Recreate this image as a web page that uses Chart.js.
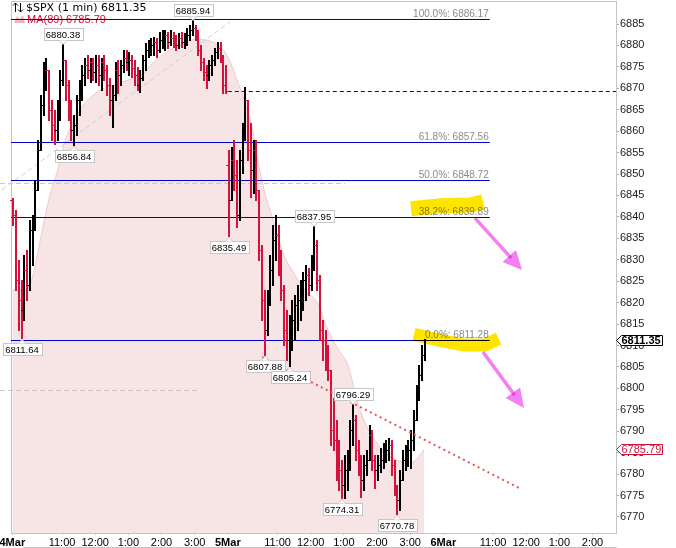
<!DOCTYPE html>
<html><head><meta charset="utf-8">
<script src="https://cdn.jsdelivr.net/npm/chart.js@4.4.1/dist/chart.umd.min.js"></script>
<style>html,body{margin:0;padding:0;background:#fff;overflow:hidden}#wrap{position:relative;width:676px;height:548px}</style>
</head><body><div id="wrap"><canvas id="c" width="676" height="548"></canvas></div>
<script>
// ---------- data (minutes since 4 Mar 9:30 open; 390 minutes per session) ----------
const barMinutes = 5;
const dayStarts = [0, 390];
const dayOpens = [6843.94, 6852.11];

const day1High = [6844.41,6841.61,6829.94,6825.28,6831.11,6832.27,6839.27,6840.44,6848.61,6857.94,
6868.44,6876.14,6877.07,6874.27,6867.27,6864.94,6867.27,6874.27,6880.38,6876.60,
6871.94,6867.27,6863.77,6868.44,6871.94,6875.44,6877.07,6877.77,6877.07,6877.07,
6877.77,6877.77,6877.07,6877.77,6875.44,6872.40,6870.77,6876.14,6876.60,6876.60,
6878.93,6878.93,6878.47,6877.77,6876.60,6874.97,6874.27,6877.77,6880.57,6881.27,
6881.73,6881.97,6881.73,6883.13,6883.60,6883.60,6883.13,6883.60,6883.13,6882.43,
6882.90,6883.13,6882.90,6884.07,6884.77,6885.94,6884.77,6883.60,6880.10,6877.07,
6875.44,6876.60,6877.77,6879.40,6880.80,6880.80,6877.77,6875.44];
const day1Low = [6838.11,6822.94,6813.61,6811.64,6815.94,6820.61,6822.94,6828.78,6836.94,6846.27,
6855.60,6863.77,6869.60,6862.60,6857.94,6857.10,6857.94,6862.60,6870.77,6867.27,
6862.60,6857.94,6856.84,6859.10,6863.77,6867.27,6870.77,6872.40,6871.47,6871.94,
6871.47,6870.77,6869.60,6871.94,6868.44,6863.77,6860.97,6867.27,6868.90,6870.77,
6873.80,6874.27,6873.10,6872.64,6870.77,6869.60,6869.14,6871.94,6874.27,6877.30,
6877.77,6877.77,6877.30,6878.47,6879.40,6878.93,6879.40,6880.10,6879.63,6878.93,
6879.40,6879.63,6879.40,6880.10,6881.27,6882.43,6881.27,6877.77,6874.27,6871.94,
6870.07,6871.94,6873.10,6875.44,6877.07,6876.14,6868.90,6868.90];
const day1Close = [6840.44,6825.28,6820.61,6818.28,6827.61,6824.11,6836.94,6838.11,6846.27,6855.60,
6866.10,6873.10,6874.27,6864.94,6861.44,6860.27,6864.94,6871.94,6876.60,6870.77,
6864.94,6860.27,6861.44,6867.27,6869.60,6873.10,6875.44,6874.27,6876.14,6873.80,
6875.44,6873.10,6876.14,6874.27,6870.77,6867.27,6868.44,6874.27,6873.10,6875.44,
6877.07,6876.14,6876.60,6874.74,6873.10,6870.77,6872.40,6876.60,6878.93,6879.40,
6880.10,6880.80,6878.93,6881.27,6881.73,6882.43,6880.80,6881.73,6881.27,6880.10,
6881.73,6880.80,6881.73,6882.43,6883.60,6884.07,6883.13,6878.93,6876.14,6873.80,
6873.10,6875.44,6876.60,6878.47,6879.40,6877.77,6870.77,6869.37];

const day2High = [6855.60,6856.30,6857.94,6853.27,6855.60,6861.90,6870.30,6867.27,6861.90,6857.94,
6857.94,6846.27,6833.44,6822.94,6822.94,6831.11,6838.11,6840.44,6838.11,6832.27,
6824.11,6818.28,6817.11,6820.61,6821.78,6824.11,6825.28,6827.14,6828.78,6828.08,
6831.11,6837.95,6834.61,6826.44,6815.94,6813.61,6810.11,6804.28,6797.75,6792.61,
6787.95,6783.28,6784.45,6785.61,6792.61,6796.29,6793.78,6787.95,6784.45,6784.45,
6785.61,6791.45,6790.28,6784.45,6784.45,6786.08,6787.25,6787.95,6788.41,6787.95,
6783.28,6777.45,6780.95,6785.61,6786.78,6787.95,6790.28,6794.95,6800.78,6805.45,
6810.11,6811.51];
const day2Low = [6835.49,6843.94,6846.27,6837.64,6839.27,6850.24,6857.94,6853.27,6844.64,6845.57,
6843.94,6829.94,6815.94,6807.88,6812.44,6819.44,6824.11,6829.94,6826.44,6820.61,
6810.11,6806.61,6805.24,6808.94,6811.28,6813.61,6815.94,6818.28,6820.61,6821.78,
6822.94,6827.61,6822.94,6811.28,6806.61,6804.28,6801.95,6786.78,6785.61,6778.62,
6776.28,6774.31,6774.42,6776.28,6780.95,6786.78,6783.28,6779.78,6774.65,6776.28,
6779.78,6783.28,6780.95,6776.75,6778.62,6780.48,6781.42,6782.82,6783.28,6779.78,
6775.12,6770.78,6771.62,6778.62,6780.95,6781.88,6781.42,6785.61,6792.61,6797.28,
6801.95,6806.61];
const day2Close = [6843.94,6853.27,6849.77,6840.44,6853.27,6859.10,6867.27,6855.60,6850.94,6855.60,
6846.27,6832.27,6820.61,6813.61,6820.61,6827.61,6834.61,6835.77,6829.94,6822.94,
6813.61,6811.28,6813.61,6815.94,6819.44,6820.61,6822.94,6825.28,6826.44,6824.11,
6829.94,6833.44,6825.28,6813.61,6811.28,6807.78,6804.28,6790.28,6787.95,6782.12,
6780.95,6777.45,6780.95,6783.28,6790.28,6792.61,6785.61,6782.12,6778.62,6782.12,
6783.28,6789.11,6783.28,6780.95,6782.12,6783.28,6784.45,6785.61,6786.78,6782.12,
6777.45,6773.95,6778.62,6783.28,6784.45,6785.61,6787.95,6792.61,6799.61,6803.11,
6807.78,6811.35];

// MA(89) overlay
const maTime = [0,14,27,36,45,56,68,81,92,104,117,128,140,159,177,195,222,240,249,264,282,300,318,330,349,367,379,
390,399,408,417,425,434,444,457,470,481,493,506,517,535,544,553,566,580,593,606,617,629,642,656,671,689,707,725,738,745];
const maValue = [6822.9,6822.9,6823.4,6825.7,6831.1,6838.1,6845.1,6850.5,6856.1,6860.7,6863.8,6866.1,6867.7,6869.6,6870.5,6871.2,6872.6,6873.8,6875.2,6877.1,6878.7,6879.9,6880.8,6881.5,6881.3,6880.6,6879.4,
6877.3,6874.7,6871.5,6868.4,6864.9,6861.0,6853.3,6845.6,6840.0,6835.3,6830.6,6827.6,6825.3,6822.2,6821.3,6819.9,6815.2,6811.3,6808.5,6805.9,6800.8,6795.0,6791.0,6787.9,6785.6,6783.7,6782.8,6782.8,6784.4,6785.79];

// Fibonacci retracement
const fibPct = ['100.0%', '61.8%', '50.0%', '38.2%', '0.0%'];
const fibLevel = [6886.17, 6857.56, 6848.72, 6839.89, 6811.28];
const fibEndMinute = 864;

// labelled highs / lows: [day, bar index, side]
const markedBars = [[0,3,'lo'],[0,18,'hi'],[0,22,'lo'],[0,65,'hi'],[1,0,'lo'],[1,13,'lo'],[1,22,'lo'],[1,31,'hi'],[1,41,'lo'],[1,45,'hi'],[1,61,'lo']];

const lastPrice = 6811.35;
const maLast = 6785.79;
const prevClose = 6869.37;

// axes
const xTickMinutes = [0,90,150,210,270,330,390,480,540,600,660,720,780,870,930,990,1050];
const xTickLabels = ['4Mar','11:00','12:00','1:00','2:00','3:00','5Mar','11:00','12:00','1:00','2:00','3:00','6Mar','11:00','12:00','1:00','2:00'];
const yTickValues = [6770,6775,6780,6785,6790,6795,6800,6805,6810,6815,6820,6825,6830,6835,6840,6845,6850,6855,6860,6865,6870,6875,6880,6885];

// drawn annotations (minute, price)
const trendRed = [[452, 6807.3], [921, 6776.5]];
const trendGrayDiag = [[-18.6, 6846.3], [394, 6885.5]];
const grayLevelA = [[-22.3, 6847.9], [602, 6847.9]];
const grayLevelB = [[-22.3, 6799.6], [340, 6799.6]];
const highlightA = [[721.5, 6841.9], [775, 6842.6], [830, 6842.8], [852, 6843.5]];
const highlightB = [[727, 6812.6], [774, 6811.2], [819, 6810.1], [855, 6810.1], [880, 6811.6]];
const arrowA = [[837.3, 6839.7], [922.4, 6827.6]];
const arrowB = [[851.8, 6808.5], [926, 6795.4]];

// ---------- build ----------
const FONT = '"Liberation Sans", Arial, sans-serif';
const RED = '#d4123c', BLUE = '#0000c8';

const bars = [];
[[day1High, day1Low, day1Close], [day2High, day2Low, day2Close]].forEach((d, di) => {
  let prev = dayOpens[di];
  d[2].forEach((c, i) => {
    bars.push({ day: di, i, t: dayStarts[di] + i * barMinutes, o: prev, h: d[0][i], l: d[1][i], c });
    prev = c;
  });
});
const barAt = (day, i) => bars.find(b => b.day === day && b.i === i);

const overlay = {
  id: 'overlay',
  afterDatasetsDraw(chart) {
    const { ctx, chartArea: a, scales: { x, y } } = chart;
    const X = v => x.getPixelForValue(v), Y = v => y.getPixelForValue(v);
    const r = v => Math.round(v) + 0.5;
    ctx.save();

    // frame
    ctx.strokeStyle = '#c4c4c4'; ctx.lineWidth = 1;
    ctx.beginPath();
    ctx.moveTo(r(a.left) , r(a.bottom)); ctx.lineTo(r(a.left), r(a.top)); ctx.lineTo(r(a.right), r(a.top));
    ctx.moveTo(r(a.left) + 12, 547.5); ctx.lineTo(r(a.right), 547.5);
    ctx.stroke();

    // legend
    ctx.fillStyle = '#000'; ctx.strokeStyle = '#000'; ctx.lineWidth = 1;
    ctx.beginPath();
    ctx.moveTo(15.5, 12); ctx.lineTo(15.5, 3); ctx.moveTo(13, 5.5); ctx.lineTo(15.5, 3); ctx.lineTo(18, 5.5);
    ctx.moveTo(20.5, 3); ctx.lineTo(20.5, 12); ctx.moveTo(18, 9.5); ctx.lineTo(20.5, 12); ctx.lineTo(23, 9.5);
    ctx.stroke();
    ctx.font = '11px "DejaVu Sans"'; ctx.textBaseline = 'middle'; ctx.textAlign = 'left';
    ctx.fillText('$SPX (1 min) ' + lastPrice.toFixed(2), 26, 8);
    ctx.fillStyle = '#f0b4bf';
    ctx.beginPath(); ctx.moveTo(14, 23); ctx.lineTo(17, 16); ctx.lineTo(20, 19); ctx.lineTo(23, 15); ctx.lineTo(25, 23); ctx.closePath(); ctx.fill();
    ctx.fillStyle = RED; ctx.font = '11px ' + FONT;
    ctx.fillText('MA(89) ' + maLast.toFixed(2), 27, 20);

    const seg = (pts, color, width, dash) => {
      ctx.strokeStyle = color; ctx.lineWidth = width; ctx.setLineDash(dash || []);
      ctx.beginPath();
      pts.forEach((p, i) => { const px = X(p[0]), py = Y(p[1]); i ? ctx.lineTo(px, py) : ctx.moveTo(px, py); });
      ctx.stroke(); ctx.setLineDash([]);
    };

    // gray helper lines
    ctx.strokeStyle = '#c8c8c8';
    [grayLevelA, grayLevelB].forEach(l => {
      ctx.setLineDash([5, 3]); ctx.lineWidth = 1; ctx.beginPath();
      ctx.moveTo(X(l[0][0]), r(Y(l[0][1]))); ctx.lineTo(X(l[1][0]), r(Y(l[1][1]))); ctx.stroke();
    });
    seg(trendGrayDiag, '#cfcfcf', 1, [5, 3]);

    // previous close
    ctx.strokeStyle = BLUE; ctx.setLineDash([4, 3]); ctx.lineWidth = 1;
    ctx.beginPath(); ctx.moveTo(X(dayStarts[1]), r(Y(prevClose))); ctx.lineTo(a.right, r(Y(prevClose))); ctx.stroke();
    ctx.setLineDash([]);

    // fibonacci
    fibLevel.forEach((v, i) => {
      const py = r(Y(v));
      ctx.strokeStyle = BLUE; ctx.lineWidth = 1;
      ctx.beginPath(); ctx.moveTo(a.left, py); ctx.lineTo(X(fibEndMinute), py); ctx.stroke();
      ctx.fillStyle = '#8a8a8a'; ctx.font = '10px ' + FONT; ctx.textAlign = 'right'; ctx.textBaseline = 'alphabetic';
      ctx.fillText(fibPct[i] + ': ' + v.toFixed(2), X(fibEndMinute) - 1, py - 2.5);
    });

    // OHLC bars
    bars.forEach(b => {
      const px = Math.round(X(b.t));
      ctx.fillStyle = b.c >= b.o ? '#000' : RED;
      const yh = Math.round(Y(b.h)), yl = Math.round(Y(b.l));
      ctx.fillRect(px, yh, 2, Math.max(1, yl - yh + 1));
      ctx.fillRect(px - 2, Math.round(Y(b.o)), 2, 1);
      ctx.fillRect(px + 2, Math.round(Y(b.c)), 2, 1);
    });

    // red dotted trend (over the bars, under the tags)
    seg(trendRed, '#ee5252', 2, [2, 3.5]);

    // price tags on highs/lows
    markedBars.forEach(([d, i, side]) => {
      const b = barAt(d, i);
      const v = side === 'hi' ? b.h : b.l;
      const cx = Math.round(X(b.t)) + 1, ay = Y(v);
      const txt = v.toFixed(2);
      ctx.font = '9.5px ' + FONT;
      const w = Math.round(ctx.measureText(txt).width) + 5, h = 12;
      const bx = Math.round(cx - w / 2) + 0.5;
      const by = side === 'lo' ? Math.round(ay + 5) + 0.5 : Math.round(ay - 4 - h) + 0.5;
      ctx.fillStyle = '#fff'; ctx.strokeStyle = '#c6c6c6'; ctx.lineWidth = 1;
      ctx.fillRect(bx, by, w, h); ctx.strokeRect(bx, by, w, h);
      const ey = side === 'lo' ? by : by + h, dir = side === 'lo' ? -1 : 1;
      ctx.beginPath(); ctx.moveTo(cx - 4, ey); ctx.lineTo(cx, ey + dir * 4); ctx.lineTo(cx + 4, ey); ctx.closePath();
      ctx.fill(); ctx.beginPath(); ctx.moveTo(cx - 4, ey); ctx.lineTo(cx, ey + dir * 4); ctx.lineTo(cx + 4, ey); ctx.stroke();
      ctx.fillStyle = '#000'; ctx.textAlign = 'center'; ctx.textBaseline = 'middle';
      ctx.fillText(txt, cx, by + h / 2 + 0.5);
    });

    // right axis value tags
    const tag = (v, color, bold) => {
      const py = Math.round(Y(v)) + 0.5, x0 = a.right + 0.5;
      ctx.beginPath();
      ctx.moveTo(x0, py); ctx.lineTo(x0 + 5, py - 5); ctx.lineTo(x0 + 46, py - 5); ctx.lineTo(x0 + 46, py + 5); ctx.lineTo(x0 + 5, py + 5); ctx.closePath();
      ctx.fillStyle = '#fff'; ctx.fill(); ctx.strokeStyle = color; ctx.lineWidth = 1; ctx.stroke();
      ctx.fillStyle = color; ctx.font = (bold ? 'bold ' : '') + '11px ' + FONT; ctx.textAlign = 'left'; ctx.textBaseline = 'middle';
      ctx.fillText(v.toFixed(2), x0 + 5, py + 0.5);
    };
    tag(lastPrice, '#000', true);
    tag(maLast, RED, false);

    // highlighter + arrows
    ctx.globalCompositeOperation = 'multiply';
    ctx.lineJoin = 'round'; ctx.lineCap = 'butt';
    seg(highlightA, '#ffe400', 15);
    seg(highlightB, '#ffe400', 13);
    [arrowA, arrowB].forEach(ar => {
      const x1 = X(ar[0][0]), y1 = Y(ar[0][1]), x2 = X(ar[1][0]), y2 = Y(ar[1][1]);
      const ang = Math.atan2(y2 - y1, x2 - x1), L = 19, W = 9;
      const bx2 = x2 - Math.cos(ang) * L, by2 = y2 - Math.sin(ang) * L;
      ctx.strokeStyle = '#f47ff2'; ctx.lineWidth = 3.5;
      ctx.beginPath(); ctx.moveTo(x1, y1); ctx.lineTo(bx2 + Math.cos(ang) * 3, by2 + Math.sin(ang) * 3); ctx.stroke();
      ctx.fillStyle = '#f47ff2';
      ctx.beginPath(); ctx.moveTo(x2, y2);
      ctx.lineTo(bx2 + Math.sin(ang) * W, by2 - Math.cos(ang) * W);
      ctx.lineTo(bx2 - Math.sin(ang) * W, by2 + Math.cos(ang) * W);
      ctx.closePath(); ctx.fill();
    });
    ctx.restore();
  }
};

new Chart(document.getElementById('c'), {
  type: 'line',
  data: {
    datasets: [{
      label: 'MA(89)',
      data: maTime.map((t, i) => ({ x: t, y: maValue[i] })),
      xAxisID: 'x', yAxisID: 'y',
      borderColor: '#f1c8cc', borderWidth: 1, backgroundColor: '#f7e4e4',
      fill: 'start', pointRadius: 0, tension: 0.3
    }]
  },
  options: {
    responsive: false, animation: false, devicePixelRatio: 1,
    layout: { padding: { left: 11, top: 1, right: 0, bottom: 0 } },
    plugins: { legend: { display: false }, tooltip: { enabled: false } },
    scales: {
      x: {
        type: 'linear', min: -2.4, max: 1092.5,
        afterBuildTicks: s => { s.ticks = xTickMinutes.map(v => ({ value: v })); },
        afterFit: s => { s.height = 15; s.paddingLeft = 0; s.paddingRight = 0; },
        ticks: {
          autoSkip: false, maxRotation: 0, minRotation: 0, padding: 1, color: '#000',
          font: c => ({ family: FONT, size: 11, weight: (c.tick && [0, 390, 780].includes(c.tick.value)) ? 'bold' : 'normal' }),
          callback: (v, i) => xTickLabels[i]
        },
        grid: { drawOnChartArea: false, drawTicks: true, tickLength: 2, color: '#c4c4c4' },
        border: { color: '#c4c4c4' }
      },
      y: {
        position: 'right', min: 6766.25, max: 6890.37,
        afterBuildTicks: s => { s.ticks = yTickValues.map(v => ({ value: v })); },
        afterFit: s => { s.width = 60; s.paddingTop = 0; s.paddingBottom = 0; },
        ticks: { padding: 1, color: '#222', font: { family: FONT, size: 11 }, callback: v => String(v) },
        grid: { drawOnChartArea: false, tickLength: 3, color: '#b0b0b0' },
        border: { color: '#c4c4c4' }
      }
    }
  },
  plugins: [overlay]
});
</script>
</body></html>
